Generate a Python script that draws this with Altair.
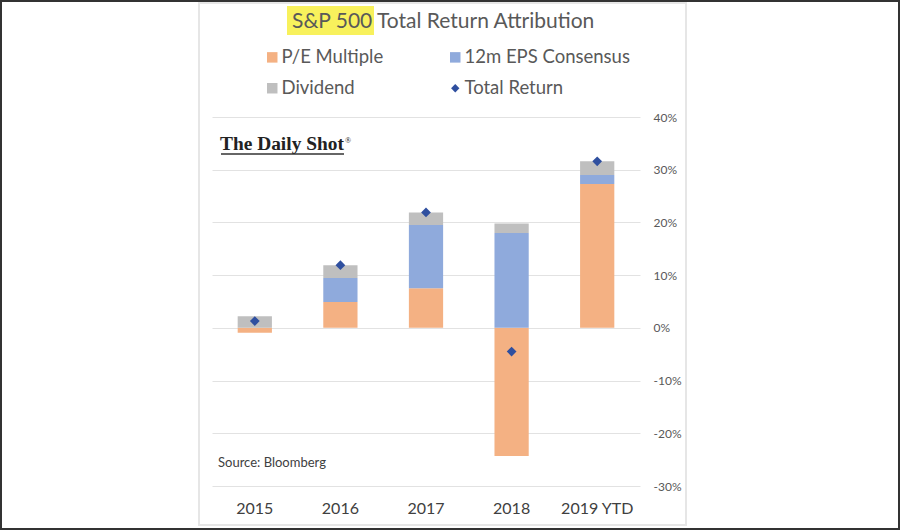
import altair as alt
import pandas as pd

years = ["2015", "2016", "2017", "2018", "2019 YTD"]
pe_multiple = [-0.0095, 0.049, 0.075, -0.243, 0.273]
eps_consensus = [0.0, 0.0455, 0.12, 0.18, 0.017]
dividend = [0.022, 0.0245, 0.024, 0.018, 0.026]
total_return = [0.013, 0.119, 0.219, -0.045, 0.316]

bar_series = ["P/E Multiple", "12m EPS Consensus", "Dividend"]
# legend order (column-major in the 2x2 grid)
legend_names = ["P/E Multiple", "Dividend", "12m EPS Consensus", "Total Return"]
legend_colors = ["#F4B183", "#BFBFBF", "#8FAADC", "#2F4F9F"]
y_ticks = [-0.3, -0.2, -0.1, 0.0, 0.1, 0.2, 0.3, 0.4]

rows = []
for i, y in enumerate(years):
    for k, (name, vals) in enumerate(zip(bar_series, [pe_multiple, eps_consensus, dividend])):
        rows.append({"year": y, "series": name, "value": vals[i], "ord": k})
bars_df = pd.DataFrame(rows)
pts_df = pd.DataFrame({"year": years, "value": total_return, "series": "Total Return"})

W, H = 428, 369
L, T = 212, 117

legend = alt.Legend(
    title=None, orient="none", legendX=51, legendY=-69, columns=2,
    columnPadding=62, rowPadding=12, labelFont="Lato", labelFontSize=18.5,
    labelColor="#595959", symbolStrokeWidth=0, labelOffset=0, padding=0,
    labelLimit=400,
    symbolType=alt.ExprRef(expr="datum.value === 'Total Return' ? 'diamond' : 'square'"),
    symbolSize=alt.ExprRef(expr="datum.value === 'Total Return' ? 70 : 110"),
)
color = alt.Color("series:N", scale=alt.Scale(domain=legend_names, range=legend_colors), legend=legend)

xenc = alt.X("year:N", sort=years, scale=alt.Scale(paddingInner=0.6, paddingOuter=0.3),
             axis=alt.Axis(title=None, domain=False, ticks=False, labelFont="Lato",
                           labelFontSize=16, labelColor="#404040", labelPadding=14,
                           labelAngle=0, grid=False))
yenc = alt.Y("value:Q", stack="zero", scale=alt.Scale(domain=[-0.3, 0.4], nice=False),
             axis=alt.Axis(title=None, orient="right", values=y_ticks, format=".0%",
                           labelExpr="replace(datum.label, '\u2212', '-')",
                           domain=False, ticks=False, labelFont="Lato", labelFontSize=12,
                           labelColor="#595959", labelPadding=13, grid=True,
                           gridColor="#E2E2E2", gridWidth=1))

bars = alt.Chart(bars_df).mark_bar().encode(
    x=xenc, y=yenc, color=color, order=alt.Order("ord:Q"))

pts = alt.Chart(pts_df).mark_point(shape="diamond", filled=True, size=95, opacity=1).encode(
    x=alt.X("year:N", sort=years), y=alt.Y("value:Q"), color=color)

one = alt.Data(values=[{}])

def text(s, x, y, **kw):
    return alt.Chart(one).mark_text(align="left", baseline="alphabetic", **kw).encode(
        x=alt.value(x), y=alt.value(y), text=alt.value(s))

outer = alt.Chart(one).mark_rect(fillOpacity=0, stroke="#333333", strokeWidth=2).encode(
    x=alt.value(-L + 1), x2=alt.value(900 - L - 1), y=alt.value(-T + 1), y2=alt.value(530 - T - 1))
panel = alt.Chart(one).mark_rect(fillOpacity=0, stroke="#E6E6E6", strokeWidth=2).encode(
    x=alt.value(199 - L), x2=alt.value(686 - L), y=alt.value(3 - T), y2=alt.value(525 - T))
hl = alt.Chart(one).mark_rect(fill="#F8F15C").encode(
    x=alt.value(287 - L), x2=alt.value(374 - L), y=alt.value(6 - T), y2=alt.value(35 - T))
t1 = text("S&P 500", 292 - L, 28 - T, font="Lato", fontSize=21, color="#595959")
t2 = text("Total Return Attribution", 377 - L, 28 - T, font="Lato", fontSize=21, color="#595959")
logo = text("The Daily Shot", 220 - L, 150 - T, font="Liberation Serif", fontSize=19.4,
            fontWeight="bold", color="#222222")
reg = text("®", 345 - L, 143 - T, font="Liberation Serif", fontSize=8, color="#222222")
uline = alt.Chart(one).mark_rule(color="#333333", strokeWidth=1.5).encode(
    x=alt.value(221 - L), x2=alt.value(344 - L), y=alt.value(154 - T))
src = text("Source: Bloomberg", 218 - L, 467 - T, font="Lato", fontSize=13, color="#404040")

chart = alt.layer(outer, panel, bars, pts, hl, t1, t2, logo, reg, uline, src).properties(
    width=W, height=H,
    padding={"left": L, "top": T, "right": 900 - L - W, "bottom": 530 - T - H},
    autosize=alt.AutoSizeParams(type="none"),
    background="white",
).configure_view(stroke=None)

chart.save("out.html", embed_options={"renderer": "svg", "actions": False})
